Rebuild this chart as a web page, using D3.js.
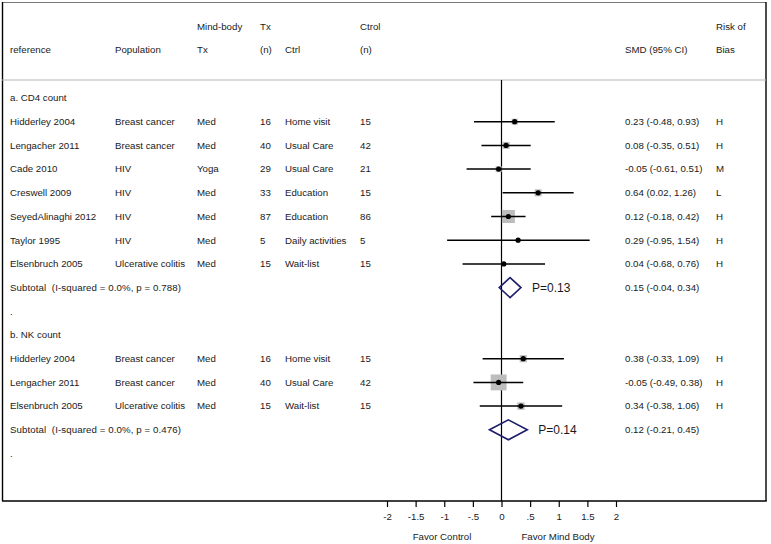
<!DOCTYPE html>
<html>
<head>
<meta charset="utf-8">
<script src="https://cdn.jsdelivr.net/npm/d3@7"></script>
<style>
  html, body { margin: 0; padding: 0; background: #fff; }
  svg text { font-family: "Liberation Sans", Arial, sans-serif; fill: #1a1a1a; white-space: pre; }
</style>
</head>
<body>
<svg id="chart" width="771" height="544"></svg>
<script>
// ---------- DATA ----------
const headerRow1 = ["", "", "Mind-body", "Tx", "", "Ctrol", "", "Risk of"];
const headerRow2 = ["reference", "Population", "Tx", "(n)", "Ctrl", "(n)", "SMD (95% CI)", "Bias"];

const groupLabels = ["a. CD4 count", "b. NK count"];

const cd4Refs = ["Hidderley 2004", "Lengacher 2011", "Cade 2010", "Creswell 2009", "SeyedAlinaghi 2012", "Taylor 1995", "Elsenbruch 2005"];
const cd4Pop = ["Breast cancer", "Breast cancer", "HIV", "HIV", "HIV", "HIV", "Ulcerative colitis"];
const cd4Tx = ["Med", "Med", "Yoga", "Med", "Med", "Med", "Med"];
const cd4TxN = [16, 40, 29, 33, 87, 5, 15];
const cd4Ctrl = ["Home visit", "Usual Care", "Usual Care", "Education", "Education", "Daily activities", "Wait-list"];
const cd4CtrlN = [15, 42, 21, 15, 86, 5, 15];
const cd4Smd = [0.23, 0.08, -0.05, 0.64, 0.12, 0.29, 0.04];
const cd4Lo = [-0.48, -0.35, -0.61, 0.02, -0.18, -0.95, -0.68];
const cd4Hi = [0.93, 0.51, 0.51, 1.26, 0.42, 1.54, 0.76];
const cd4Weight = [10, 13.6, 10, 13.6, 46.8, 1.1, 4.4];
const cd4Bias = ["H", "H", "M", "L", "H", "H", "H"];

const nkRefs = ["Hidderley 2004", "Lengacher 2011", "Elsenbruch 2005"];
const nkPop = ["Breast cancer", "Breast cancer", "Ulcerative colitis"];
const nkTx = ["Med", "Med", "Med"];
const nkTxN = [16, 40, 15];
const nkCtrl = ["Home visit", "Usual Care", "Wait-list"];
const nkCtrlN = [15, 42, 15];
const nkSmd = [0.38, -0.05, 0.34];
const nkLo = [-0.33, -0.49, -0.38];
const nkHi = [1.09, 0.38, 1.06];
const nkWeight = [14, 70, 15];
const nkBias = ["H", "H", "H"];

const subtotalLabels = ["Subtotal  (I-squared = 0.0%, p = 0.788)", "Subtotal  (I-squared = 0.0%, p = 0.476)"];
const subtotalSmd = [0.15, 0.12];
const subtotalLo = [-0.04, -0.21];
const subtotalHi = [0.34, 0.45];
const subtotalP = ["P=0.13", "P=0.14"];

const tickValues = [-2, -1.5, -1, -0.5, 0, 0.5, 1, 1.5, 2];
const tickLabels = ["-2", "-1.5", "-1", "-.5", "0", ".5", "1", "1.5", "2"];
const favorLabels = ["Favor Control", "Favor Mind Body"];

// ---------- BUILD ROWS ----------
function studyRows(refs, pop, tx, txN, ctrl, ctrlN, smd, lo, hi, w, bias) {
  return refs.map((r, i) => ({type: "study", ref: r, pop: pop[i], tx: tx[i], txN: txN[i], ctrl: ctrl[i], ctrlN: ctrlN[i], smd: smd[i], lo: lo[i], hi: hi[i], w: w[i], bias: bias[i]}));
}
const rows = [];
rows.push({type: "label", text: groupLabels[0]});
studyRows(cd4Refs, cd4Pop, cd4Tx, cd4TxN, cd4Ctrl, cd4CtrlN, cd4Smd, cd4Lo, cd4Hi, cd4Weight, cd4Bias).forEach(r => rows.push(r));
rows.push({type: "subtotal", text: subtotalLabels[0], smd: subtotalSmd[0], lo: subtotalLo[0], hi: subtotalHi[0], p: subtotalP[0]});
rows.push({type: "label", text: "."});
rows.push({type: "label", text: groupLabels[1]});
studyRows(nkRefs, nkPop, nkTx, nkTxN, nkCtrl, nkCtrlN, nkSmd, nkLo, nkHi, nkWeight, nkBias).forEach(r => rows.push(r));
rows.push({type: "subtotal", text: subtotalLabels[1], smd: subtotalSmd[1], lo: subtotalLo[1], hi: subtotalHi[1], p: subtotalP[1]});
rows.push({type: "label", text: "."});

// ---------- LAYOUT ----------
const svg = d3.select("#chart");
const fs = 9.7;
const colX = [10, 115, 197, 260, 285, 360, 625, 716];
const plotTop = 80, plotBottom = 501;

const x = d3.scaleLinear().domain([-2, 2]).range([387, 616]);
const y = d3.scaleLinear().domain([0, rows.length - 1]).range([98, 453.5]);
const boxSize = d3.scaleSqrt().domain([0, 100]).range([0, 19]);
const fmt = d3.formatLocale({decimal: ".", thousands: ",", grouping: [3], currency: ["", ""], minus: "-"}).format(".2f");

// border
svg.append("line").attr("x1", 2).attr("x2", 766).attr("y1", 2.5).attr("y2", 2.5).attr("stroke", "#777").attr("stroke-width", 1);
svg.append("line").attr("x1", 2.5).attr("x2", 2.5).attr("y1", 2).attr("y2", plotBottom).attr("stroke", "#000").attr("stroke-width", 1.4);
svg.append("line").attr("x1", 766).attr("x2", 766).attr("y1", 2).attr("y2", plotBottom).attr("stroke", "#000").attr("stroke-width", 1.4);

// header separator
svg.append("line").attr("x1", 2).attr("x2", 766).attr("y1", plotTop).attr("y2", plotTop).attr("stroke", "#b5b5b5").attr("stroke-width", 1);

// header text
const hdr = svg.append("g");
headerRow1.forEach((t, i) => { if (t) hdr.append("text").attr("x", colX[i]).attr("y", 27).attr("dy", "0.35em").attr("font-size", fs).text(t); });
headerRow2.forEach((t, i) => { if (t) hdr.append("text").attr("x", colX[i]).attr("y", 50).attr("dy", "0.35em").attr("font-size", fs).text(t); });

// zero line
svg.append("line").attr("x1", x(0)).attr("x2", x(0)).attr("y1", plotTop).attr("y2", plotBottom).attr("stroke", "#000").attr("stroke-width", 1.2);

// rows
const g = svg.append("g");
rows.forEach((r, i) => {
  const yy = y(i);
  if (r.type === "label") {
    g.append("text").attr("x", colX[0]).attr("y", yy).attr("dy", "0.35em").attr("font-size", fs).text(r.text);
  } else if (r.type === "study") {
    const vals = [r.ref, r.pop, r.tx, r.txN, r.ctrl, r.ctrlN];
    vals.forEach((v, j) => g.append("text").attr("x", colX[j]).attr("y", yy).attr("dy", "0.35em").attr("font-size", fs).text(v));
    g.append("text").attr("x", colX[6]).attr("y", yy).attr("dy", "0.35em").attr("font-size", fs)
      .text(`${fmt(r.smd)} (${fmt(r.lo)}, ${fmt(r.hi)})`);
    g.append("text").attr("x", colX[7]).attr("y", yy).attr("dy", "0.35em").attr("font-size", fs).text(r.bias);
    const s = boxSize(r.w);
    g.append("rect").attr("x", x(r.smd) - s / 2).attr("y", yy - s / 2).attr("width", s).attr("height", s).attr("fill", "#bdbdbd");
    g.append("line").attr("x1", x(r.lo)).attr("x2", x(r.hi)).attr("y1", yy).attr("y2", yy).attr("stroke", "#000").attr("stroke-width", 1.5);
    g.append("circle").attr("cx", x(r.smd)).attr("cy", yy).attr("r", 2.6).attr("fill", "#000");
  } else if (r.type === "subtotal") {
    g.append("text").attr("x", colX[0]).attr("y", yy).attr("dy", "0.35em").attr("font-size", fs)
      .attr("textLength", 171).attr("lengthAdjust", "spacing").text(r.text);
    g.append("text").attr("x", colX[6]).attr("y", yy).attr("dy", "0.35em").attr("font-size", fs)
      .text(`${fmt(r.smd)} (${fmt(r.lo)}, ${fmt(r.hi)})`);
    const h = 10;
    const pts = [[x(r.lo), yy], [x(r.smd), yy - h], [x(r.hi), yy], [x(r.smd), yy + h]];
    g.append("path").attr("d", d3.line()(pts) + "Z").attr("fill", "none").attr("stroke", "#1c1c6b").attr("stroke-width", 1.6);
    g.append("text").attr("x", x(r.hi) + 11).attr("y", yy).attr("dy", "0.35em").attr("font-size", 12).text(r.p);
  }
});

// axis
const axis = d3.axisBottom(x).tickValues(tickValues).tickSize(6).tickPadding(6)
  .tickFormat((d, i) => tickLabels[i]);
const ax = svg.append("g").attr("transform", `translate(0,${plotBottom})`).call(axis);
ax.select(".domain").remove();
ax.selectAll(".tick line").attr("stroke", "#000").attr("stroke-width", 1.2);
ax.selectAll(".tick text").attr("font-size", fs).attr("font-family", "Liberation Sans, Arial, sans-serif").attr("fill", "#1a1a1a");

// bottom border (axis line)
svg.append("line").attr("x1", 2).attr("x2", 766.7).attr("y1", plotBottom).attr("y2", plotBottom).attr("stroke", "#000").attr("stroke-width", 1.4);

// favor labels
svg.append("text").attr("x", 442).attr("y", 536.5).attr("dy", "0.35em").attr("text-anchor", "middle").attr("font-size", fs).text(favorLabels[0]);
svg.append("text").attr("x", 558).attr("y", 536.5).attr("dy", "0.35em").attr("text-anchor", "middle").attr("font-size", fs).text(favorLabels[1]);
</script>
</body>
</html>
